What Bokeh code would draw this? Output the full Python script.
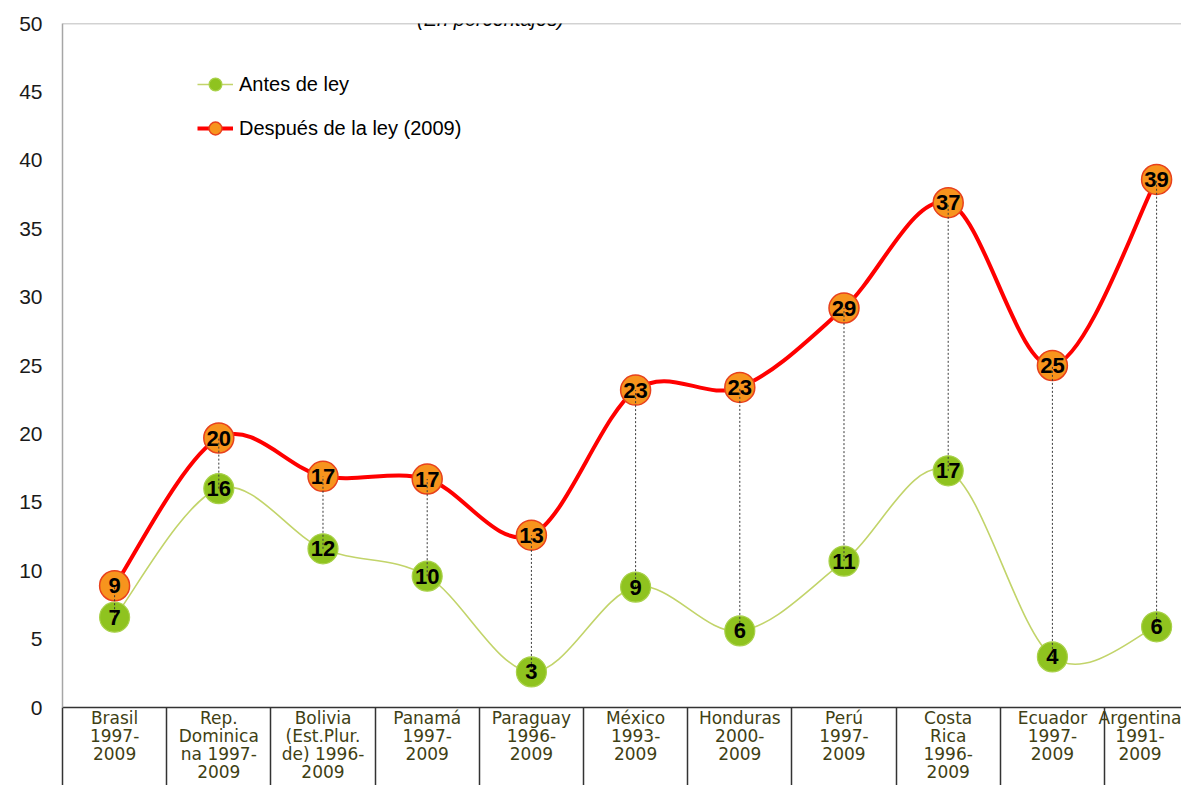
from bokeh.plotting import figure
from bokeh.models import (ColumnDataSource, FixedTicker, Legend, LegendItem,
                          Label, Range1d, Span)
from bokeh.embed import file_html
from bokeh.resources import INLINE
from bokeh.core.properties import value

# ---------------- data ----------------
paises = [
    "Brasil\n1997-\n2009",
    "Rep.\nDominica\nna 1997-\n2009",
    "Bolivia\n(Est.Plur.\nde) 1996-\n2009",
    "Panamá\n1997-\n2009",
    "Paraguay\n1996-\n2009",
    "México\n1993-\n2009",
    "Honduras\n2000-\n2009",
    "Perú\n1997-\n2009",
    "Costa\nRica\n1996-\n2009",
    "Ecuador\n1997-\n2009",
    "Argentina\n1991-\n2009",
]
antes = [6.6, 16.0, 11.6, 9.6, 2.6, 8.8, 5.6, 10.7, 17.3, 3.7, 5.9]
despues = [8.9, 19.7, 16.9, 16.7, 12.6, 23.2, 23.4, 29.2, 36.9, 25.0, 38.6]
y_ticks = [0, 5, 10, 15, 20, 25, 30, 35, 40, 45, 50]
serie_antes = "Antes de ley"
serie_despues = "Después de la ley (2009)"
subtitulo = "(En porcentajes)"

idx = list(range(len(paises)))
bordes = [i - 0.5 for i in range(len(paises) + 1)]


def catmull_rom(xs, ys):
    """Bezier segments (Excel-like smoothing) through the data points."""
    n = len(xs)
    out = dict(x0=[], y0=[], x1=[], y1=[], cx0=[], cy0=[], cx1=[], cy1=[])
    for i in range(n - 1):
        a = i - 1 if i > 0 else i
        d = i + 2 if i + 2 < n else i + 1
        out["x0"].append(xs[i]); out["y0"].append(ys[i])
        out["x1"].append(xs[i + 1]); out["y1"].append(ys[i + 1])
        out["cx0"].append(xs[i] + (xs[i + 1] - xs[a]) / 6.0)
        out["cy0"].append(ys[i] + (ys[i + 1] - ys[a]) / 6.0)
        out["cx1"].append(xs[i + 1] - (xs[d] - xs[i]) / 6.0)
        out["cy1"].append(ys[i + 1] - (ys[d] - ys[i]) / 6.0)
    return out


src = ColumnDataSource(dict(
    x=idx, antes=antes, despues=despues,
    lab_a=[f"{v:.0f}" for v in antes],
    lab_d=[f"{v:.0f}" for v in despues],
))

p = figure(width=1181, height=785, output_backend="svg", toolbar_location=None,
           x_range=Range1d(-0.5, 10.239), y_range=Range1d(0, 50),
           min_border_left=62, min_border_top=23, min_border_right=0,
           min_border_bottom=77)
p.background_fill_color = "white"
p.border_fill_color = "white"
p.outline_line_color = None
p.xgrid.visible = False
p.ygrid.visible = False

# y axis
p.yaxis.ticker = FixedTicker(ticks=y_ticks)
p.yaxis.axis_line_color = "#a6a6a6"
p.yaxis.axis_line_width = 1.5
p.yaxis.major_tick_line_color = None
p.yaxis.minor_tick_line_color = None
p.yaxis.major_tick_out = 0
p.yaxis.major_tick_in = 0
p.yaxis.major_label_standoff = 20
p.yaxis.major_label_text_font = "Liberation Sans"
p.yaxis.major_label_text_font_size = "21px"
p.yaxis.major_label_text_color = "#1a1a1a"

# x axis drawn as a table: category labels + cell borders (minor ticks)
p.xaxis.ticker = FixedTicker(ticks=idx, minor_ticks=bordes)
p.xaxis.major_label_overrides = {i: s for i, s in zip(idx, paises)}
p.xaxis.axis_line_color = "#333333"
p.xaxis.axis_line_width = 1.5
p.xaxis.major_tick_line_color = None
p.xaxis.major_tick_in = 0
p.xaxis.major_tick_out = 0
p.xaxis.minor_tick_line_color = "#333333"
p.xaxis.minor_tick_line_width = 1.5
p.xaxis.minor_tick_in = 0
p.xaxis.minor_tick_out = 78
p.xaxis.major_label_standoff = -78
p.xaxis.major_label_text_font = "DejaVu Sans"
p.xaxis.major_label_text_font_size = "17px"
p.xaxis.major_label_text_line_height = 0.91
p.xaxis.major_label_text_color = "#3f3f14"

# top border of plot area
p.add_layout(Span(location=50, dimension="width", line_color="#a6a6a6", line_width=1.5))

# smooth lines
bz_a = p.bezier(source=ColumnDataSource(catmull_rom(idx, antes)),
                x0="x0", y0="y0", x1="x1", y1="y1",
                cx0="cx0", cy0="cy0", cx1="cx1", cy1="cy1",
                line_color="#c2d46a", line_width=1.6)
bz_d = p.bezier(source=ColumnDataSource(catmull_rom(idx, despues)),
                x0="x0", y0="y0", x1="x1", y1="y1",
                cx0="cx0", cy0="cy0", cx1="cx1", cy1="cy1",
                line_color="#ff0000", line_width=4)

# markers
m_a = p.scatter("x", "antes", source=src, marker="circle", size=30,
                fill_color="#8fc31f", line_color="#a9d14a", line_width=1.2)
m_d = p.scatter("x", "despues", source=src, marker="circle", size=30,
                fill_color="#f7941d", line_color="#e8411c", line_width=1.5)

# high-low lines
p.segment(x0="x", y0="antes", x1="x", y1="despues", source=src,
          line_color="#3a3a3a", line_width=1, line_dash="2 2")

# value labels
for col, ycol in (("lab_a", "antes"), ("lab_d", "despues")):
    p.text(x="x", y=ycol, text=col, source=src,
           text_font=value("Liberation Sans"), text_font_style="bold",
           text_font_size="22px", text_color="black",
           text_align="center", text_baseline="middle")

# subtitle above the plot area
p.add_layout(Label(x=3.607, y=50.365, text=subtitulo,
                   text_font="Liberation Sans", text_font_style="italic",
                   text_font_size="20px", text_color="black",
                   text_align="center", text_baseline="alphabetic"))

legend = Legend(items=[
    LegendItem(label=serie_antes, renderers=[bz_a, m_a]),
    LegendItem(label=serie_despues, renderers=[bz_d, m_d]),
], location=(135, 563))
legend.border_line_color = None
legend.background_fill_alpha = 0
legend.label_text_font = "Liberation Sans"
legend.label_text_font_size = "20px"
legend.label_text_color = "black"
legend.glyph_width = 36
legend.glyph_height = 32
legend.label_height = 32
legend.spacing = 12
legend.padding = 0
legend.margin = 0
legend.label_standoff = 6
p.add_layout(legend)

open("out.html", "w").write(file_html(p, INLINE))
